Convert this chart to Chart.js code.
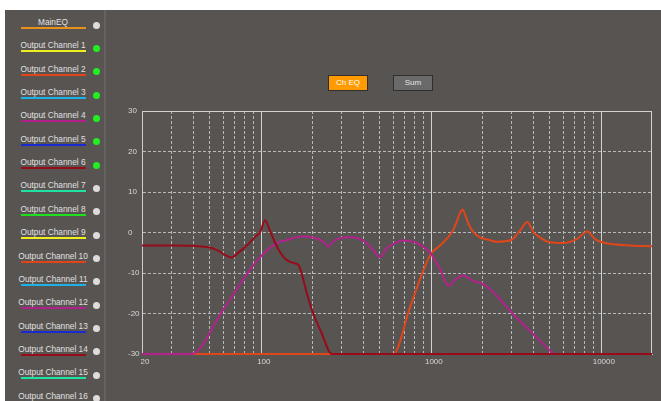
<!DOCTYPE html>
<html>
<head>
<meta charset="utf-8">
<script src="https://cdn.jsdelivr.net/npm/chart.js@4/dist/chart.umd.min.js"></script>
<style>
  html, body { margin: 0; padding: 0; width: 661px; height: 401px; overflow: hidden; background: #ffffff;
    font-family: "Liberation Sans", Arial, sans-serif; }
  #panel { position: absolute; left: 5px; top: 10px; width: 656px; height: 391px; background: #585452; }
  #sep { position: absolute; left: 104px; top: 10px; width: 2px; height: 391px; background: #67625f; }
  .name { position: absolute; left: 18px; width: 70px; text-align: center; font-size: 8.3px; line-height: 10px; color: #e0e0e0; white-space: nowrap; }
  .uline { position: absolute; left: 21px; width: 65px; height: 2px; }
  .dot { position: absolute; left: 93px; width: 7px; height: 7px; border-radius: 50%; }
  .btn { position: absolute; top: 75px; width: 38px; height: 14px; border: 1px solid #2f2f2f; font-size: 8px;
    line-height: 14px; text-align: center; }
  #eqBtn { left: 328px; background: #ff9a00; color: #ffffff; }
  #sumBtn { left: 393px; background: #6a6a6a; color: #e4e4e4; }
  #wrap { position: absolute; left: 106px; top: 100px; width: 555px; height: 301px; }
</style>
</head>
<body>
<div id="panel"></div>
<div id="sep"></div>
<div id="legend"></div>
<div class="btn" id="eqBtn">Ch EQ</div>
<div class="btn" id="sumBtn">Sum</div>
<div id="wrap"><canvas id="eq" width="555" height="301"></canvas></div>
<script>
// Channel list shown in the side panel
const channelNames = ['MainEQ', 'Output Channel 1', 'Output Channel 2', 'Output Channel 3', 'Output Channel 4',
  'Output Channel 5', 'Output Channel 6', 'Output Channel 7', 'Output Channel 8', 'Output Channel 9',
  'Output Channel 10', 'Output Channel 11', 'Output Channel 12', 'Output Channel 13', 'Output Channel 14',
  'Output Channel 15', 'Output Channel 16'];
const channelColors = ['#e8901c', '#eeee1e', '#e0441a', '#1cb2e6', '#b2208c', '#1a2ad2', '#960c18', '#1ee2a2',
  '#1ee01e', '#eeee1e', '#e0441a', '#1cb2e6', '#b2208c', '#1a2ad2', '#960c18', '#1ee2a2', '#1ee01e'];
const channelActive = [false, true, true, true, true, true, true, false, false, false, false, false, false, false, false, false, false];

// Axis ticks
const gridFreqs = [20, 30, 40, 50, 60, 70, 80, 90, 100, 200, 300, 400, 500, 600, 700, 800, 900,
  1000, 2000, 3000, 4000, 5000, 6000, 7000, 8000, 9000, 10000, 20000];
const freqLabels = [20, 100, 1000, 10000];
const decadeFreqs = [100, 1000, 10000, 20000];

// Output Channel 6 response (Hz, dB)
const ch6Freq = [20, 30, 40, 48, 55, 62, 67, 74, 81, 92, 99, 106, 113, 121, 130, 139, 154, 166, 173, 186, 199, 227, 262, 20000];
const ch6Gain = [-3.2, -3.2, -3.3, -3.6, -4.3, -5.6, -6.2, -4.9, -3.6, -1.2, 0.1, 3.0, 0.5, -2.4, -4.9, -6.5, -7.5, -7.9, -9.8, -14.8, -18.9, -24.7, -30, -30];

// Output Channel 4 response (Hz, dB)
const ch4Freq = [20, 39, 60, 86, 101, 115, 127, 145, 160, 182, 200, 218, 235, 250, 265, 292, 333, 400, 450, 502, 550, 601, 688, 826,
  985, 1132, 1268, 1400, 1553, 1760, 2036, 2440, 2992, 4009, 5260];
const ch4Gain = [-30, -30, -19.1, -9.3, -5.7, -3.6, -2.4, -1.8, -1.2, -1.0, -1.2, -1.6, -2.4, -3.5, -2.3, -1.4, -1.2, -2.0, -3.9, -6.1,
  -3.9, -2.8, -2.0, -2.6, -4.9, -9.0, -13.1, -11.5, -10.6, -11.9, -12.7, -15.6, -19.8, -25.1, -30];

// Output Channel 2 response (Hz, dB)
const ch2Freq = [20, 601, 754, 903, 1000, 1132, 1291, 1364, 1419, 1490, 1539, 1590, 1667, 1778, 1946, 2134, 2440, 2992, 3348,
  3699, 4009, 4373, 5010, 5990, 7235, 7890, 8376, 8860, 9412, 11300, 15000, 20000];
const ch2Gain = [-30, -30, -18.5, -9.4, -5.3, -3.2, -0.7, 0.9, 2.6, 5.0, 5.7, 4.4, 2.1, 0.1, -1.2, -1.7, -2.3, -1.8, 0.5,
  2.6, 0.1, -1.2, -2.4, -2.6, -1.6, -0.3, 0.3, -0.8, -1.8, -2.8, -3.2, -3.4];

// Side panel legend
const legend = document.getElementById('legend');
channelNames.forEach((name, i) => {
  const cy = 22 + i * 23.35;
  const t = document.createElement('div');
  t.className = 'name';
  t.style.top = (cy - 5) + 'px';
  t.textContent = name;
  legend.appendChild(t);
  const u = document.createElement('div');
  u.className = 'uline';
  u.style.top = (cy + 5) + 'px';
  u.style.background = channelColors[i];
  legend.appendChild(u);
  const d = document.createElement('div');
  d.className = 'dot';
  d.style.top = (cy - 0.5) + 'px';
  d.style.background = channelActive[i] ? '#22ee22' : '#dcdcdc';
  legend.appendChild(d);
});

const toPoints = (fs, gs) => fs.map((f, i) => ({ x: f, y: gs[i] }));

// Solid grid lines at decades and along the top edge
const solidLines = {
  id: 'solidLines',
  beforeDatasetsDraw(chart) {
    const { ctx, chartArea: { left, right, top, bottom }, scales: { x } } = chart;
    ctx.save();
    ctx.strokeStyle = '#d2d2d2';
    ctx.lineWidth = 1;
    ctx.beginPath();
    decadeFreqs.forEach(f => {
      const px = Math.min(Math.round(x.getPixelForValue(f)), Math.round(right) - 1) + 0.5;
      ctx.moveTo(px, top);
      ctx.lineTo(px, bottom);
    });
    const ty = Math.round(top) + 0.5;
    ctx.moveTo(left, ty);
    ctx.lineTo(right, ty);
    ctx.stroke();
    ctx.restore();
  }
};

const tickFont = { family: '"Liberation Sans", Arial, sans-serif', size: 8 };

new Chart(document.getElementById('eq'), {
  type: 'line',
  data: {
    datasets: [
      { label: channelNames[6], data: toPoints(ch6Freq, ch6Gain), borderColor: '#980c1a', clip: false },
      { label: channelNames[4], data: toPoints(ch4Freq, ch4Gain), borderColor: '#b4228e', clip: false },
      { label: channelNames[2], data: toPoints(ch2Freq, ch2Gain), borderColor: '#e0461a', clip: false }
    ]
  },
  options: {
    responsive: false,
    animation: false,
    devicePixelRatio: 1,
    layout: { padding: { left: 22, top: 11, right: 9, bottom: 0 } },
    plugins: { legend: { display: false }, tooltip: { enabled: false } },
    elements: {
      point: { radius: 0 },
      line: { borderWidth: 2, cubicInterpolationMode: 'monotone', fill: false }
    },
    scales: {
      x: {
        type: 'logarithmic',
        min: 20,
        max: 20000,
        afterBuildTicks: s => { s.ticks = gridFreqs.map(v => ({ value: v })); },
        afterFit: s => { s.height = 47; },
        ticks: {
          autoSkip: false, maxRotation: 0, minRotation: 0, padding: 3, labelOffset: 3,
          color: '#d8d8d8', font: tickFont,
          callback: v => freqLabels.includes(v) ? String(v) : ''
        },
        grid: {
          drawTicks: false,
          lineWidth: 1,
          color: c => (c.tick && decadeFreqs.includes(c.tick.value)) ? 'rgba(0,0,0,0)' : '#b9b9b9'
        },
        border: { display: true, color: '#c8c8c8', width: 1, dash: [3, 2] }
      },
      y: {
        min: -30,
        max: 30,
        afterFit: s => { s.width = 14; },
        ticks: { stepSize: 10, crossAlign: 'far', padding: 0, color: '#d8d8d8', font: tickFont },
        grid: {
          drawTicks: false,
          lineWidth: 1,
          color: c => (c.tick && c.tick.value === 30) ? 'rgba(0,0,0,0)' : '#b9b9b9'
        },
        border: { display: true, color: '#cfcfcf', width: 1, dash: [3, 2] }
      }
    }
  },
  plugins: [solidLines]
});
</script>
</body>
</html>
